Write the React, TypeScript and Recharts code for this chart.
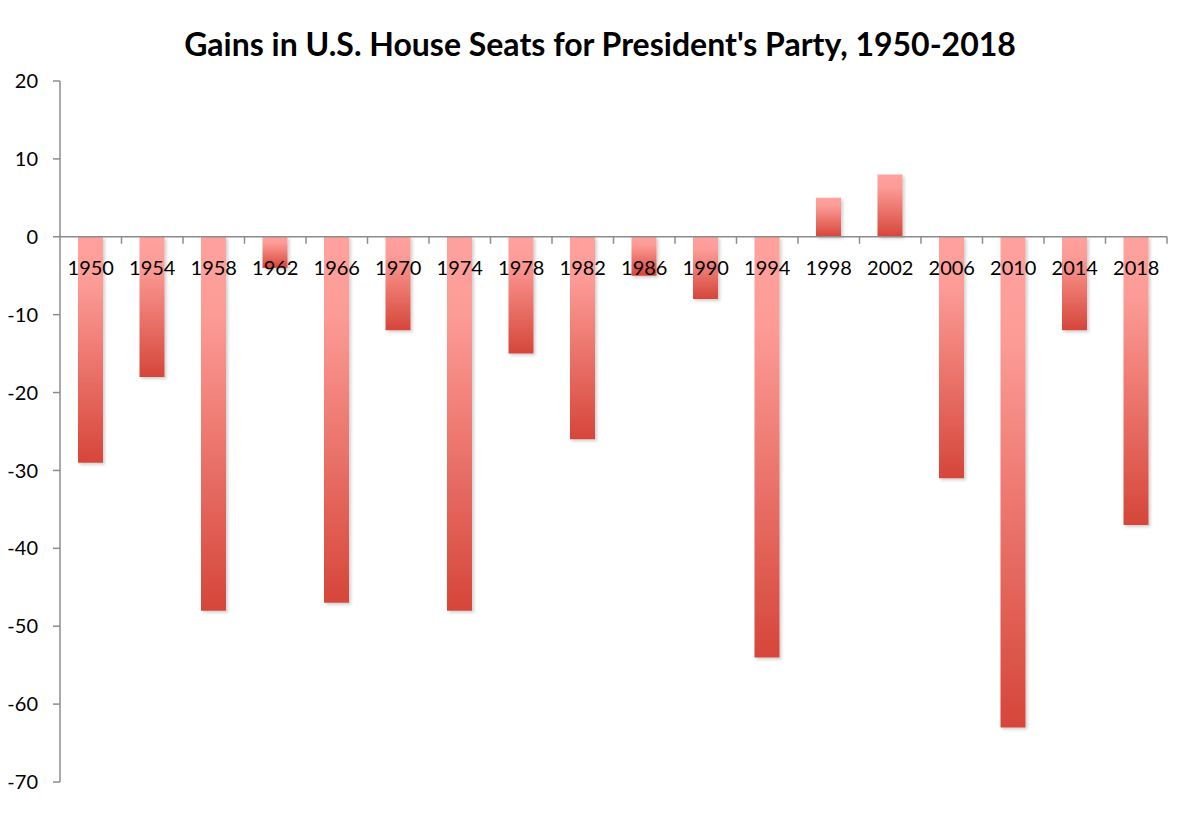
import React from 'react';
import { BarChart, Bar, XAxis, YAxis, ReferenceLine, Cell } from 'recharts';

const years = ['1950', '1954', '1958', '1962', '1966', '1970', '1974', '1978', '1982', '1986', '1990', '1994', '1998', '2002', '2006', '2010', '2014', '2018'];
const seatGains = [-29, -18, -48, -4, -47, -12, -48, -15, -26, -5, -8, -54, 5, 8, -31, -63, -12, -37];
const yTicks = [20, 10, 0, -10, -20, -30, -40, -50, -60, -70];

const data = years.map((year, i) => ({ year, gain: seatGains[i] }));

// chart geometry
const W = 1184;
const H = 802;
const M = { top: 73, right: 25, bottom: 0, left: 0 };
const Y_AXIS_W = 52;
const X_AXIS_H = 28;
const plotTop = M.top;
const plotH = H - M.top - M.bottom - X_AXIS_H;
const plotW = W - M.left - M.right - Y_AXIS_W;
const yMax = 20;
const yMin = -70;
const zeroY = plotTop + (plotH * (yMax - 0)) / (yMax - yMin);
const band = plotW / years.length;

const FONT = 'Lato, "Open Sans", sans-serif';

const ZeroAxisTick = (props: any) => {
  const { x, payload } = props;
  return (
    <g>
      <line x1={x + band / 2} x2={x + band / 2} y1={zeroY} y2={zeroY + 7} stroke="#8c8c8c" strokeWidth={1.5} />
      <text x={x} y={zeroY + 38} textAnchor="middle" fontSize={20} fill="#000" fontFamily={FONT}>
        {payload.value}
      </text>
    </g>
  );
};

const App = () => {
  return (
    <div style={{ position: 'relative', width: W, height: H, fontFamily: FONT }}>
      <div
        style={{
          position: 'absolute',
          top: 16,
          left: 0,
          width: W,
          textAlign: 'center',
          fontSize: 32,
          fontWeight: 700,
          color: '#000',
        }}
      >
        Gains in U.S. House Seats for President's Party, 1950-2018
      </div>
      <BarChart width={W} height={H} data={data} margin={M} barCategoryGap={0}>
        <defs>
          <linearGradient id="barFill" x1="0" y1="0" x2="0" y2="1">
            <stop offset="0%" stopColor="#ffa19d" />
            <stop offset="20%" stopColor="#fd9c97" />
            <stop offset="100%" stopColor="#d6463a" />
          </linearGradient>
          <filter id="barShadow" x="-20%" y="-5%" width="150%" height="115%">
            <feDropShadow dx="2" dy="2" stdDeviation="1.5" floodColor="#000" floodOpacity="0.18" />
          </filter>
        </defs>
        <XAxis
          dataKey="year"
          height={X_AXIS_H}
          axisLine={false}
          tickLine={false}
          tick={<ZeroAxisTick />}
          interval={0}
        />
        <YAxis
          width={Y_AXIS_W}
          domain={[yMin, yMax]}
          ticks={yTicks}
          interval={0}
          axisLine={{ stroke: '#8c8c8c', strokeWidth: 1.5 }}
          tickLine={{ stroke: '#8c8c8c', strokeWidth: 1.5 }}
          tickSize={7}
          tickMargin={15}
          tick={{ fontSize: 20, fill: '#000', fontFamily: FONT }}
        />
        <Bar dataKey="gain" barSize={25} isAnimationActive={false} filter="url(#barShadow)">
          {data.map((d) => (
            <Cell key={d.year} fill="url(#barFill)" />
          ))}
        </Bar>
        <ReferenceLine y={0} stroke="#8c8c8c" strokeWidth={1.5} />
      </BarChart>
    </div>
  );
};

export default App;
